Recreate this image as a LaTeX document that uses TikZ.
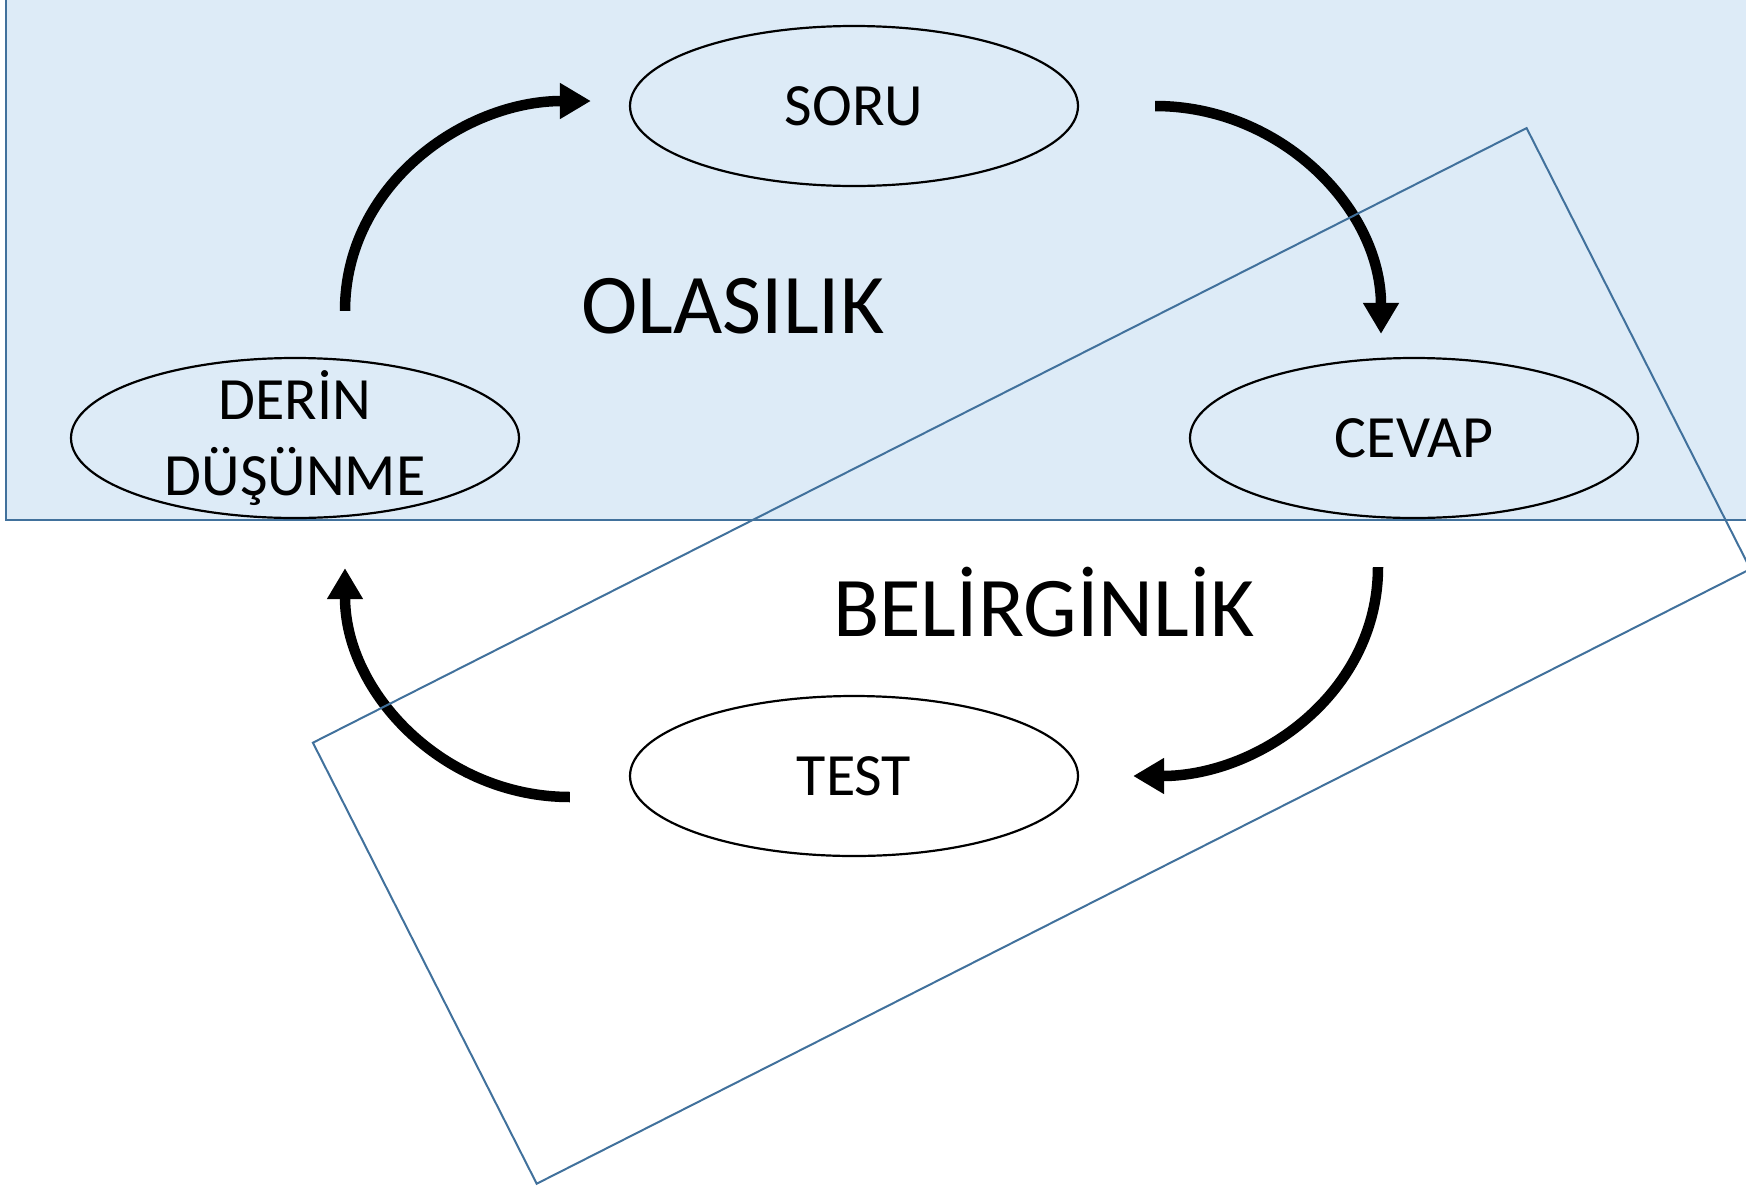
\documentclass[tikz,border=0pt]{standalone}
\usepackage{fontspec}
\setmainfont{Carlito}
\usetikzlibrary{arrows.meta, shapes.geometric}
\definecolor{olasfill}{RGB}{221, 235, 247}
\definecolor{olasline}{RGB}{65, 113, 156}

\begin{document}
\begin{tikzpicture}[x=1pt, y=-1pt]%
        \tikzstyle{stage} = [draw, ellipse, line width=2.2pt, minimum width=448pt, minimum height=160pt, inner sep=0pt, align=center, font=\fontsize{60}{76}\selectfont]
        \tikzstyle{flow} = [-{Triangle[length=31pt, width=34pt]}, line width=10.5pt]
        \tikzstyle{region} = [olasline, line width=2pt]
        \tikzstyle{big} = [anchor=base, font=\fontsize{85}{100}\selectfont]

        \useasboundingbox (0,0) rectangle (1746,1189);

        % olasilik alani
        \draw[region, fill=olasfill] (5.5,-10) rectangle (1760,520);

        \node[stage] (soru) at (854,106) {SORU};
        \node[stage, inner ysep=-12pt] (derin) at (295,438) {DERİN\\DÜŞÜNME};
        \node[stage] (cevap) at (1414,438) {CEVAP};
        \node[stage] (test) at (854,776) {TEST};

        \node[big] (olasilik) at (733,333) {OLASILIK};
        \node[big] (belirginlik) at (1044,636) {BELİRGİNLİK};

        \draw[flow] ([xshift=50pt, yshift=46pt]derin.north) to[out=90, in=180] ([xshift=-38pt, yshift=5pt]soru.west);
        \draw[flow] ([xshift=76pt]soru.east) to[out=0, in=90] ([xshift=-33pt, yshift=23pt]cevap.north);
        \draw[flow] ([xshift=-36pt, yshift=-48pt]cevap.south) to[out=-90, in=0] ([xshift=54pt]test.east);
        \draw[flow] ([xshift=-59pt, yshift=-21pt]test.west) to[out=180, in=-90] ([xshift=50pt, yshift=-49pt]derin.south);

        % belirginlik alani
        \draw[region] (1526.6,128.1) -- (1750.4,569) -- (536.7,1183.7) -- (312.9,742.7) -- cycle;
      \end{tikzpicture}
\end{document}
